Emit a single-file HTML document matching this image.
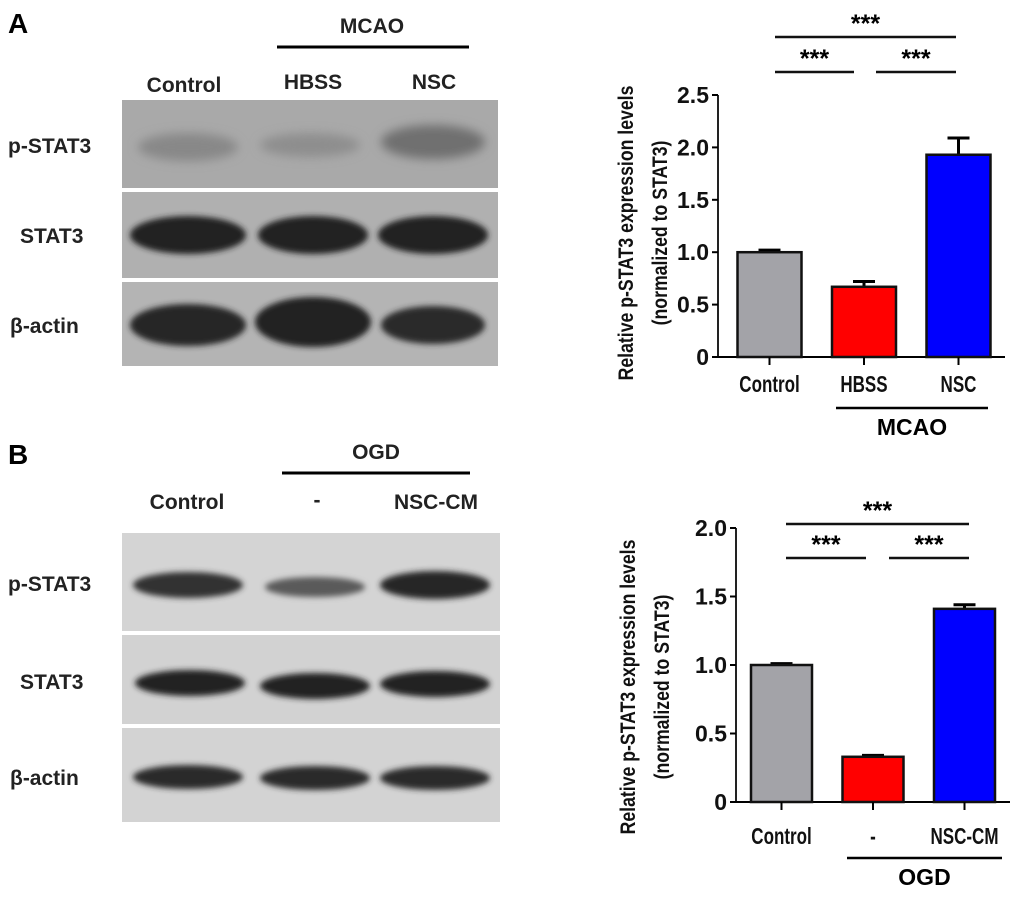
<!DOCTYPE html>
<html><head><meta charset="utf-8"><style>
body{margin:0;background:#fff;width:1020px;height:897px;overflow:hidden;font-family:"Liberation Sans",Arial,sans-serif}
svg text{font-family:"Liberation Sans",Arial,sans-serif;font-weight:bold}
</style></head><body>
<svg id="fig" width="1020" height="897" viewBox="0 0 1020 897">
<defs>
<filter id="bl" x="-30%" y="-80%" width="160%" height="260%"><feGaussianBlur stdDeviation="5"/></filter>
<filter id="bl2" x="-30%" y="-80%" width="160%" height="260%"><feGaussianBlur stdDeviation="3"/></filter>
</defs>
<g>
<text x="8" y="33" font-size="28">A</text>
<text x="372" y="33" font-size="21" text-anchor="middle" fill="#222">MCAO</text>
<line x1="277" y1="47" x2="469" y2="47" stroke="#000" stroke-width="3"/>
<text x="184" y="92" font-size="21" text-anchor="middle" fill="#222">Control</text>
<text x="313" y="89" font-size="21" text-anchor="middle" fill="#222">HBSS</text>
<text x="434" y="89" font-size="21" text-anchor="middle" fill="#222">NSC</text>
<text x="8" y="153" font-size="21" fill="#222">p-STAT3</text>
<text x="20" y="243" font-size="21" fill="#222">STAT3</text>
<text x="10" y="333" font-size="21" fill="#222">β-actin</text>
<rect x="122" y="100" width="376" height="88" fill="#a9a9a9"/>
<rect x="122" y="192" width="376" height="86" fill="#b0b0b0"/>
<rect x="122" y="282" width="376" height="84" fill="#b4b4b4"/>
<g filter="url(#bl)">
<ellipse cx="188" cy="147" rx="50" ry="14" fill="#888"/>
<ellipse cx="310" cy="145" rx="50" ry="12" fill="#8e8e8e"/>
<ellipse cx="433" cy="142" rx="52" ry="17" fill="#707070"/>
</g>
<g filter="url(#bl2)">
<ellipse cx="188" cy="235" rx="58" ry="19" fill="#222"/>
<ellipse cx="313" cy="235" rx="55" ry="19" fill="#222"/>
<ellipse cx="433" cy="235" rx="55" ry="19" fill="#222"/>
<ellipse cx="188" cy="325" rx="58" ry="21" fill="#262626"/>
<ellipse cx="313" cy="322" rx="58" ry="25" fill="#222"/>
<ellipse cx="433" cy="325" rx="52" ry="19" fill="#2c2c2c"/>
</g>
</g>
<g>
<text x="8" y="464" font-size="28">B</text>
<text x="376" y="459" font-size="21" text-anchor="middle" fill="#222">OGD</text>
<line x1="282" y1="473" x2="470" y2="473" stroke="#000" stroke-width="3"/>
<text x="187" y="509" font-size="21" text-anchor="middle" fill="#222">Control</text>
<text x="317" y="507" font-size="21" text-anchor="middle" fill="#222">-</text>
<text x="436" y="509" font-size="21" text-anchor="middle" fill="#222">NSC-CM</text>
<text x="8" y="591" font-size="21" fill="#222">p-STAT3</text>
<text x="20" y="689" font-size="21" fill="#222">STAT3</text>
<text x="10" y="785" font-size="21" fill="#222">β-actin</text>
<rect x="122" y="533" width="378" height="98" fill="#d4d4d4"/>
<rect x="122" y="635" width="378" height="89" fill="#d2d2d2"/>
<rect x="122" y="728" width="378" height="94" fill="#d3d3d3"/>
<g filter="url(#bl2)">
<ellipse cx="188" cy="585" rx="55" ry="13" fill="#333"/>
<ellipse cx="315" cy="587" rx="50" ry="10" fill="#5a5a5a"/>
<ellipse cx="435" cy="585" rx="55" ry="14" fill="#262626"/>
<ellipse cx="190" cy="683" rx="55" ry="13" fill="#222"/>
<ellipse cx="315" cy="686" rx="55" ry="13" fill="#222"/>
<ellipse cx="435" cy="684" rx="55" ry="13" fill="#222"/>
<ellipse cx="188" cy="777" rx="55" ry="12" fill="#2a2a2a"/>
<ellipse cx="315" cy="778" rx="55" ry="12" fill="#2a2a2a"/>
<ellipse cx="435" cy="778" rx="55" ry="12" fill="#2a2a2a"/>
</g>
</g>
<g id="chartA"></g>
<g id="chartB"></g>
</svg>
<script>
const catsA = ["Control","HBSS","NSC"];
const valsA = [1.0, 0.67, 1.93];
const errA = [0.02, 0.05, 0.16];
const ticksA = [0, 0.5, 1.0, 1.5, 2.0, 2.5];
const tickLabelsA = ["0","0.5","1.0","1.5","2.0","2.5"];
const catsB = ["Control","-","NSC-CM"];
const valsB = [1.0, 0.33, 1.41];
const errB = [0.01, 0.01, 0.03];
const ticksB = [0, 0.5, 1.0, 1.5, 2.0];
const tickLabelsB = ["0","0.5","1.0","1.5","2.0"];
const colors = ["#a3a3a8","#ff0000","#0000ff"];
const NS = "http://www.w3.org/2000/svg";
function mk(p, tag, a, txt){const e=document.createElementNS(NS,tag);for(const k in a)e.setAttribute(k,a[k]);if(txt!=null)e.textContent=txt;p.appendChild(e);return e;}
function draw(g, o){
  const y = v => o.y0 - (v/o.max)*(o.y0-o.yTop);
  const x = i => o.x0 + i*o.step;
  const ax = mk(g,'line',{x1:o.axX,y1:y(o.max),x2:o.axX,y2:o.y0,stroke:'#222','stroke-width':2});
  
  
  const xa = mk(g,'line',{x1:o.axX,y1:o.y0,x2:o.axEnd,y2:o.y0,stroke:'#000','stroke-width':2});
  
  
  o.ticks.forEach((t,i)=>{
    mk(g,'line',{x1:o.axX-6,y1:y(t),x2:o.axX,y2:y(t),stroke:'#000','stroke-width':2});
    const tl = mk(g,'text',{x:o.axX-9,y:y(t)+8,'font-size':23,'text-anchor':'end',fill:'#111'},o.tickLabels[i]);
    
    
  });
  o.cats.forEach((c,i)=>{
    const cx = x(i);
    const eb = mk(g,'path',{d:`M${cx} ${y(o.vals[i])}V${y(o.vals[i]+o.err[i])}M${cx-11} ${y(o.vals[i]+o.err[i])}H${cx+11}`,stroke:'#000','stroke-width':3,fill:'none'});
    
    
    const b = mk(g,'rect',{x:cx-o.bw/2,y:y(o.vals[i]),width:o.bw,height:o.y0-y(o.vals[i]),fill:colors[i],stroke:'#111','stroke-width':2.5});
    
    
    mk(g,'line',{x1:cx,y1:o.y0,x2:cx,y2:o.y0+8,stroke:'#000','stroke-width':2});
    const l = mk(g,'text',{x:0,y:0,'font-size':20,'text-anchor':'middle',fill:'#111','font-weight':'normal',transform:`translate(${cx},${o.labY}) scale(0.85,1.15)`},c);
    
    
  });
  const t1 = mk(g,'text',{x:0,y:0,'font-size':19,'text-anchor':'middle','font-weight':'normal',fill:'#111',transform:`translate(${o.tx1},${o.tyc}) rotate(-90) scale(0.93,1.1)`},'Relative p-STAT3 expression levels');
  
  
  mk(g,'text',{x:0,y:0,'font-size':19,'text-anchor':'middle','font-weight':'normal',fill:'#111',transform:`translate(${o.tx2},${o.tyc}) rotate(-90) scale(0.93,1.1)`},'(normalized to STAT3)');
  mk(g,'line',{x1:o.gx1,y1:o.gy,x2:o.gx2,y2:o.gy,stroke:'#000','stroke-width':2.5});
  const gl = mk(g,'text',{x:(o.gx1+o.gx2)/2,y:o.gy+27,'font-size':23,'text-anchor':'middle'},o.group);
  
  
  o.sig.forEach(s=>{
    mk(g,'line',{x1:s[0],y1:s[2],x2:s[1],y2:s[2],stroke:'#111','stroke-width':2.5});
    const st = mk(g,'text',{x:(s[0]+s[1])/2,y:s[2]-5,'font-size':25,'text-anchor':'middle'},'***');
    
    
  });
}
draw(document.getElementById('chartA'),{cats:catsA,vals:valsA,err:errA,ticks:ticksA,tickLabels:tickLabelsA,max:2.5,y0:357,yTop:95,axX:718,axEnd:1005,x0:769.5,step:94.5,bw:64,labY:392,tx1:633,tx2:667,tyc:233,gx1:836,gx2:988,gy:408,group:'MCAO',sig:[[775,956,37],[775,854,72],[876,956,72]]});
draw(document.getElementById('chartB'),{cats:catsB,vals:valsB,err:errB,ticks:ticksB,tickLabels:tickLabelsB,max:2.0,y0:802,yTop:528,axX:736,axEnd:1010,x0:781.5,step:91.5,bw:61,labY:844,tx1:635,tx2:669,tyc:687,gx1:847,gx2:1002,gy:858,group:'OGD',sig:[[786,969,524],[786,866,558],[889,969,558]]});
</script>
</body></html>
